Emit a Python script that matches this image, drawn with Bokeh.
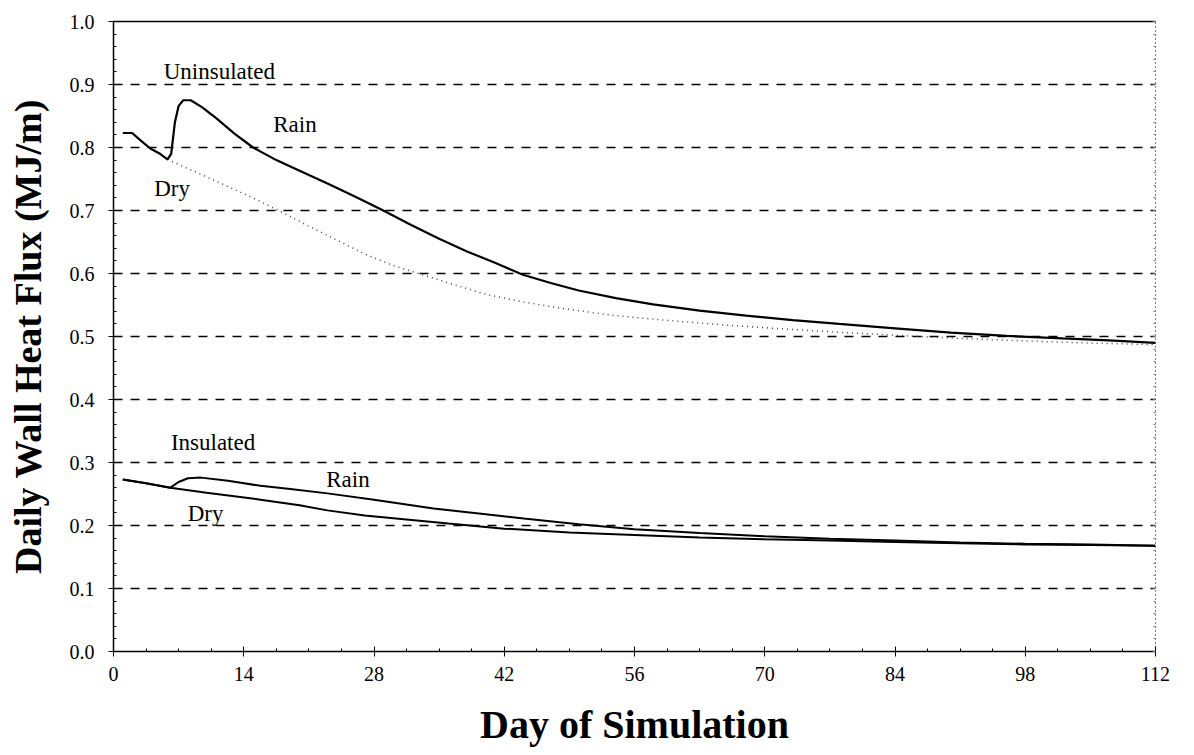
from bokeh.plotting import figure
from bokeh.models import Range1d, FixedTicker, PrintfTickFormatter, LinearAxis, Label
from bokeh.embed import file_html
from bokeh.resources import INLINE

# ---- data ----
unins_rain_day = [1, 2, 3, 4, 5, 5.8, 6.2, 6.6, 7.0, 7.5, 8.3, 9.5, 11, 13, 15, 17.5, 20, 23, 26, 29,
                  32, 35, 38, 41, 44, 47, 50, 54, 58, 63, 68, 73, 78, 84, 90, 96, 102, 107, 112]
unins_rain_val = [0.823, 0.823, 0.81, 0.798, 0.79, 0.781, 0.79, 0.84, 0.866, 0.875, 0.875, 0.864, 0.847,
                  0.822, 0.80, 0.78, 0.763, 0.743, 0.722, 0.70, 0.677, 0.655, 0.635, 0.617, 0.598, 0.585,
                  0.573, 0.561, 0.551, 0.541, 0.533, 0.526, 0.52, 0.513, 0.506, 0.501, 0.497, 0.494, 0.49]

unins_dry_day = [5.8, 9, 12, 15, 18, 21, 24, 27, 30, 33, 36, 40, 44, 48, 54, 60, 66, 72, 80, 88, 96, 104, 112]
unins_dry_val = [0.781, 0.76, 0.74, 0.72, 0.698, 0.675, 0.653, 0.631, 0.613, 0.599, 0.585, 0.567, 0.555,
                 0.545, 0.533, 0.525, 0.518, 0.512, 0.505, 0.499, 0.494, 0.49, 0.487]

ins_rain_day = [1, 3.5, 6.1, 7, 8, 9.4, 12.3, 15.8, 19, 23, 28, 34.4, 40, 44.1, 50, 56, 63, 70, 77, 84, 91, 98, 105, 112]
ins_rain_val = [0.273, 0.267, 0.26, 0.269, 0.275, 0.276, 0.271, 0.263, 0.258, 0.251, 0.241, 0.227, 0.218,
                0.211, 0.202, 0.194, 0.188, 0.183, 0.179, 0.176, 0.173, 0.171, 0.17, 0.168]

ins_dry_day = [1, 3.5, 6.1, 10, 15.8, 20, 23, 27, 31.2, 36, 42, 49, 56, 63, 70, 77, 84, 91, 98, 105, 112]
ins_dry_val = [0.273, 0.267, 0.26, 0.252, 0.241, 0.232, 0.224, 0.216, 0.21, 0.203, 0.195, 0.189, 0.185,
               0.181, 0.178, 0.176, 0.174, 0.172, 0.17, 0.169, 0.168]

x_ticks = [0, 14, 28, 42, 56, 70, 84, 98, 112]
y_ticks = [0.0, 0.1, 0.2, 0.3, 0.4, 0.5, 0.6, 0.7, 0.8, 0.9, 1.0]

labels_text = ["Uninsulated", "Rain", "Dry", "Insulated", "Rain", "Dry"]
labels_x = [5.4, 19.5, 6.3, 10.7, 25.2, 9.9]
labels_y = [0.92, 0.837, 0.735, 0.332, 0.273, 0.219]
labels_align = ["left", "center", "center", "center", "center", "center"]

SERIF = "Liberation Serif"

p = figure(width=1180, height=755, output_backend="svg", toolbar_location=None,
           x_range=Range1d(0, 112), y_range=Range1d(0, 1),
           min_border_left=113, min_border_right=25, min_border_top=21, min_border_bottom=104)
p.outline_line_color = None
p.background_fill_color = "white"

# axes
p.xaxis.ticker = FixedTicker(ticks=x_ticks, minor_ticks=[i * 3.5 for i in range(33)])
p.yaxis.ticker = FixedTicker(ticks=y_ticks, minor_ticks=[i * 0.02 for i in range(51)])
p.yaxis.formatter = PrintfTickFormatter(format="%.1f")
for ax in (p.xaxis, p.yaxis):
    ax.axis_line_color = "black"
    ax.axis_line_width = 1.5
    ax.major_tick_in = 5
    ax.major_tick_out = 5
    ax.minor_tick_in = 3
    ax.minor_tick_out = 0
    ax.major_tick_line_color = "black"
    ax.minor_tick_line_color = "black"
    ax.major_label_text_font = SERIF
    ax.major_label_text_font_size = "20px"
    ax.major_label_text_color = "black"
    ax.axis_label_text_font = SERIF
    ax.axis_label_text_font_style = "bold"
    ax.axis_label_text_color = "black"
p.xaxis.axis_label = "Day of Simulation"
p.yaxis.axis_label = "Daily Wall Heat Flux (MJ/m)"
p.xaxis.axis_label_text_font_size = "40px"
p.yaxis.axis_label_text_font_size = "38px"
p.xaxis.major_label_standoff = 10
p.xaxis.axis_label_standoff = 18
p.yaxis.major_label_standoff = 14
p.yaxis.axis_label_standoff = 18

# top solid border, right dotted border
top = LinearAxis(ticker=FixedTicker(ticks=[]), major_label_text_font_size="0px",
                 axis_line_color="black", axis_line_width=1.5, major_tick_line_color=None,
                 minor_tick_line_color=None)
p.add_layout(top, "above")
right = LinearAxis(ticker=FixedTicker(ticks=y_ticks, minor_ticks=[i * 0.02 for i in range(51)]),
                   major_label_text_font_size="0px", axis_line_color="black", axis_line_width=1,
                   axis_line_dash="1 3", major_tick_in=3, major_tick_out=0, minor_tick_in=2,
                   minor_tick_out=0, major_tick_line_color="#555555", minor_tick_line_color="#777777")
p.add_layout(right, "right")

# grid
p.xgrid.grid_line_color = None
p.ygrid.grid_line_color = "black"
p.ygrid.grid_line_dash = "9 8"
p.ygrid.grid_line_width = 1.3

# lines
p.line(unins_dry_day, unins_dry_val, line_color="#444444", line_width=1.5, line_dash="1 4")
p.line(unins_rain_day, unins_rain_val, line_color="black", line_width=2.2)
p.line(ins_dry_day, ins_dry_val, line_color="black", line_width=2)
p.line(ins_rain_day, ins_rain_val, line_color="black", line_width=2)

for t, x, y, a in zip(labels_text, labels_x, labels_y, labels_align):
    p.add_layout(Label(x=x, y=y, text=t, text_align=a, text_baseline="middle",
                       text_font=SERIF, text_font_size="23px", text_color="black"))

open("out.html", "w").write(file_html(p, INLINE))
